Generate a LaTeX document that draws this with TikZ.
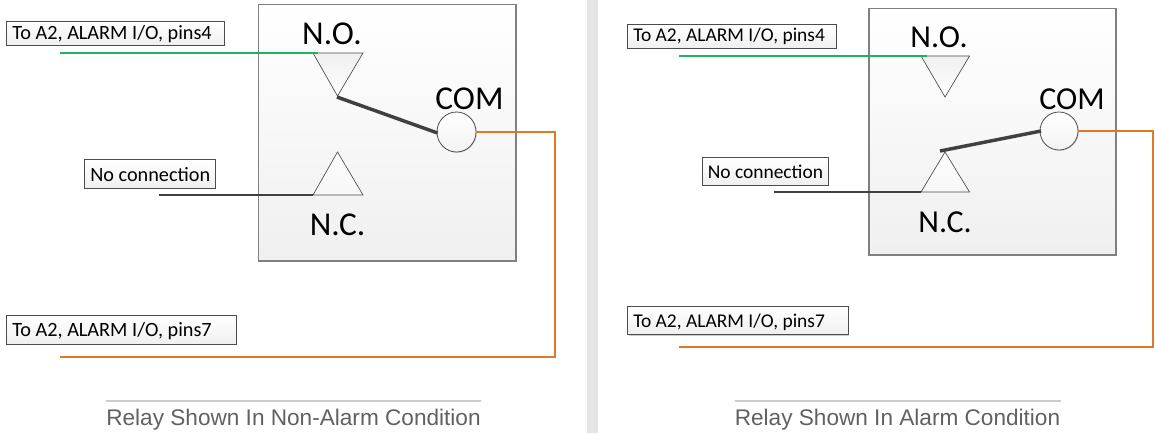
\documentclass[tikz,border=0pt]{standalone}
\usepackage{fontspec}
\setmainfont{Carlito}
\newfontfamily\capfont{Liberation Sans}
\usetikzlibrary{shadows}
\definecolor{wgreen}{HTML}{1DB360}
\definecolor{worange}{HTML}{E0782A}
\definecolor{wdark}{HTML}{404040}
\tikzset{
  x=0.75pt,y=-0.75pt,
  relaybox/.style={draw=black!50,line width=0.8pt,top color=white,bottom color=black!6,general shadow={shadow xshift=0.8pt,shadow yshift=-0.8pt,fill=black!22}},
  tag/.style={draw=black!70,line width=0.7pt,top color=white,bottom color=black!6,general shadow={shadow xshift=0.9pt,shadow yshift=-0.9pt,fill=black!20}},
  tagtext/.style={anchor=west,inner sep=0pt,font=\fontsize{#1}{16pt}\selectfont,text=black},
  term/.style={inner sep=0pt,font=\fontsize{#1}{26pt}\selectfont,text=black},
  contact/.style={draw=black!70,line width=0.5pt,line join=miter},
  contactno/.style={contact,top color=black!6,bottom color=white},
  contactnc/.style={contact,top color=black!1,bottom color=black!3},
  common/.style={draw=black!70,line width=0.6pt,top color=white,bottom color=black!5,general shadow={shadow xshift=0.6pt,shadow yshift=-0.6pt,fill=black!18}},
  wiregreen/.style={draw=wgreen,line width=1.35pt},
  wireorange/.style={draw=worange,line width=1.35pt,line join=miter},
  wireblack/.style={draw=wdark,line width=1.35pt},
  arm/.style={draw=wdark,line width=2.6pt},
  caprule/.style={draw=black!20,line width=0.8pt},
  captxt/.style={inner sep=0pt,font=\capfont\fontsize{#1}{19pt}\selectfont,text=black!62},
}
\begin{document}
\begin{tikzpicture}
\useasboundingbox (0,0) rectangle (1155,433);
\fill[white] (0,0) rectangle (1155,433);
\fill[black!10] (587,0) rectangle (598,433);
% left panel
\path[relaybox] (258.5,4.5) rectangle (516,261);
\node[term=25pt] (lno) at (332,34) {N.O.};
\node[term=25pt] (lcom) at (469.5,99) {COM};
\node[term=25pt] (lnc) at (337.5,225) {N.C.};
\path[contactno] (313,53) coordinate (ln1) -- (363,53) -- (337.5,96) coordinate (lnoa) -- cycle;
\path[contactnc] (313,195) coordinate (lc1) -- (363,195) -- (337.5,152) coordinate (lnca) -- cycle;
\path[common] (456.5,132) ellipse [x radius=19.5,y radius=20];
\coordinate (lcw) at (437.5,133);
\coordinate (lce) at (476,132);
\draw[arm] (337,97) -- (lcw);
\path[tag] (6.5,21.5) rectangle (224,45);
\node[tagtext=15.2pt] (l1) at (12,34) {To A2, ALARM I/O, pins4};
\path[tag] (84.5,159.5) rectangle (215,188);
\node[tagtext=15.2pt] (l2) at (90,175) {No connection};
\path[tag] (6.5,315.5) rectangle (236,344);
\node[tagtext=15.2pt] (l3) at (12,331) {To A2, ALARM I/O, pins7};
\coordinate (lg0) at (60,53); \coordinate (lg1) at (318,53);
\draw[wiregreen] (lg0) -- (lg1);
\coordinate (lb0) at (159,195);
\draw[wireblack] (lb0) -- (lc1);
\coordinate (lo0) at (60,357);
\draw[wireorange] (lce) -| (555,357) -- (lo0);
\coordinate (lr0) at (106,401); \coordinate (lr1) at (481,401);
\draw[caprule] (lr0) -- (lr1);
\node[captxt=16.95pt] (lcap) at (293.5,420) {Relay Shown In Non-Alarm Condition};
% right panel
\path[relaybox] (869,8.5) rectangle (1116,255);
\node[term=24pt] (rno) at (939,37) {N.O.};
\node[term=24pt] (rcom) at (1072,99) {COM};
\node[term=24pt] (rnc) at (945,222) {N.C.};
\path[contactno] (921,56) coordinate (rn1) -- (969.5,56) -- (945,97) -- cycle;
\path[contactnc] (921,192) coordinate (rc1) -- (969.5,192) -- (945,152) coordinate (rnca) -- cycle;
\path[common] (1059,131) ellipse [x radius=19,y radius=19];
\coordinate (rcw) at (1041,131);
\coordinate (rce) at (1078,131);
\draw[arm] (940,151) -- (rcw);
\path[tag] (627.5,24.5) rectangle (836,48);
\node[tagtext=14.6pt] (r1) at (633,36.5) {To A2, ALARM I/O, pins4};
\path[tag] (702,157) rectangle (828,185);
\node[tagtext=14.6pt] (r2) at (707.5,172) {No connection};
\path[tag] (627.5,306.5) rectangle (848,334.5);
\node[tagtext=14.6pt] (r3) at (633,322) {To A2, ALARM I/O, pins7};
\coordinate (rg0) at (679,56); \coordinate (rg1) at (926.5,56);
\draw[wiregreen] (rg0) -- (rg1);
\coordinate (rb0) at (773.5,192);
\draw[wireblack] (rb0) -- (rc1);
\coordinate (ro0) at (679,347);
\draw[wireorange] (rce) -| (1153,347) -- (ro0);
\coordinate (rr0) at (735,401); \coordinate (rr1) at (1060.5,401);
\draw[caprule] (rr0) -- (rr1);
\node[captxt=16.95pt] (rcap) at (897.5,420) {Relay Shown In Alarm Condition};
\end{tikzpicture}
\end{document}
